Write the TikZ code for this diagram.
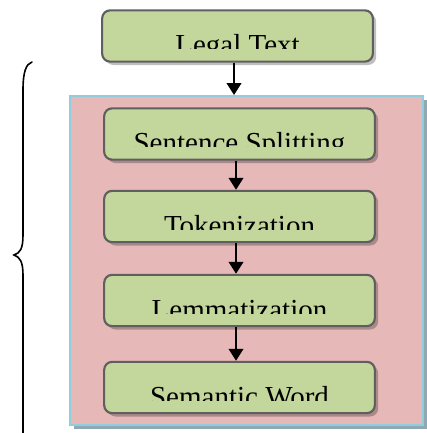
\documentclass[tikz,border=0pt]{standalone}
\usepackage{fontspec}
\setmainfont{Liberation Serif}
\usetikzlibrary{arrows.meta,shadows}
\definecolor{boxgreen}{HTML}{C3D69B}
\definecolor{boxline}{HTML}{5F5F5F}
\definecolor{panelpink}{HTML}{E6B8B7}
\definecolor{panelblue}{HTML}{93CDDD}
\definecolor{panelshadow}{HTML}{8EA9B2}
\tikzset{
  stepbox/.style={draw=boxline, fill=boxgreen, line width=1.6pt, rounded corners=6pt,
    minimum width=203pt, minimum height=38.5pt, inner sep=0pt,
    drop shadow={shadow xshift=2.5pt, shadow yshift=-2.5pt, fill=black, opacity=0.25}},
  steptext/.style={anchor=base, inner sep=0pt, font=\fontsize{21.75pt}{24pt}\selectfont},
  flow/.style={-{Triangle[length=9pt,width=11pt]}, line width=1.5pt},
  bracepath/.style={line width=1.2pt, line cap=round},
}
\begin{document}
\begin{tikzpicture}[x=0.75pt, y=-0.75pt]
\useasboundingbox (0,0) rectangle (427,433);
% panel
\node[draw=panelblue, fill=panelpink, line width=1.5pt, minimum width=264.75pt, minimum height=246.75pt, inner sep=0pt,
  drop shadow={shadow xshift=3pt, shadow yshift=-3pt, fill=panelshadow, opacity=1}] (panel) at (246.5,260.5) {};
% boxes
\node[stepbox] (legal) at (237.5,36) {};
\node[stepbox] (split) at (239.5,134) {};
\node[stepbox] (token) at (239.5,216.5) {};
\node[stepbox] (lemma) at (239.5,300.5) {};
\node[stepbox] (sem) at (239.5,387.5) {};
% texts, clipped as in the reference
\begin{scope}
  \clip (100,8) rectangle (376,48.5);
  \node[steptext] (tlegal) at (237.5,54) {Legal Text};
\end{scope}
\begin{scope}
  \clip (100,106) rectangle (378,146.5);
  \node[steptext] (tsplit) at (239.5,152) {Sentence Splitting};
\end{scope}
\begin{scope}
  \clip (100,189) rectangle (378,229.5);
  \node[steptext] (ttoken) at (239.5,235) {Tokenization};
\end{scope}
\begin{scope}
  \clip (100,273) rectangle (378,313.5);
  \node[steptext] (tlemma) at (239.5,319) {Lemmatization};
\end{scope}
\begin{scope}
  \clip (100,360) rectangle (378,400.5);
  \node[steptext] (tsem) at (239.5,406) {Semantic Word};
\end{scope}
% arrows
\draw[flow] ([xshift=-2.6pt]legal.south) -- ([xshift=-2.6pt]legal.south |- panel.north);
\draw[flow] ([xshift=-2.6pt]split.south) -- ([xshift=-2.6pt]token.north);
\draw[flow] ([xshift=-2.6pt]token.south) -- ([xshift=-2.6pt]lemma.north);
\draw[flow] ([xshift=-2.6pt]lemma.south) -- ([xshift=-2.6pt]sem.north);
% brace
\draw[bracepath] (32,62) .. controls (26,64) and (23,72) .. (23,90) -- (23,235)
  .. controls (23,249) and (20,253) .. (14,255)
  .. controls (20,257) and (23,262) .. (23,275) -- (23,440);
\end{tikzpicture}
\end{document}
